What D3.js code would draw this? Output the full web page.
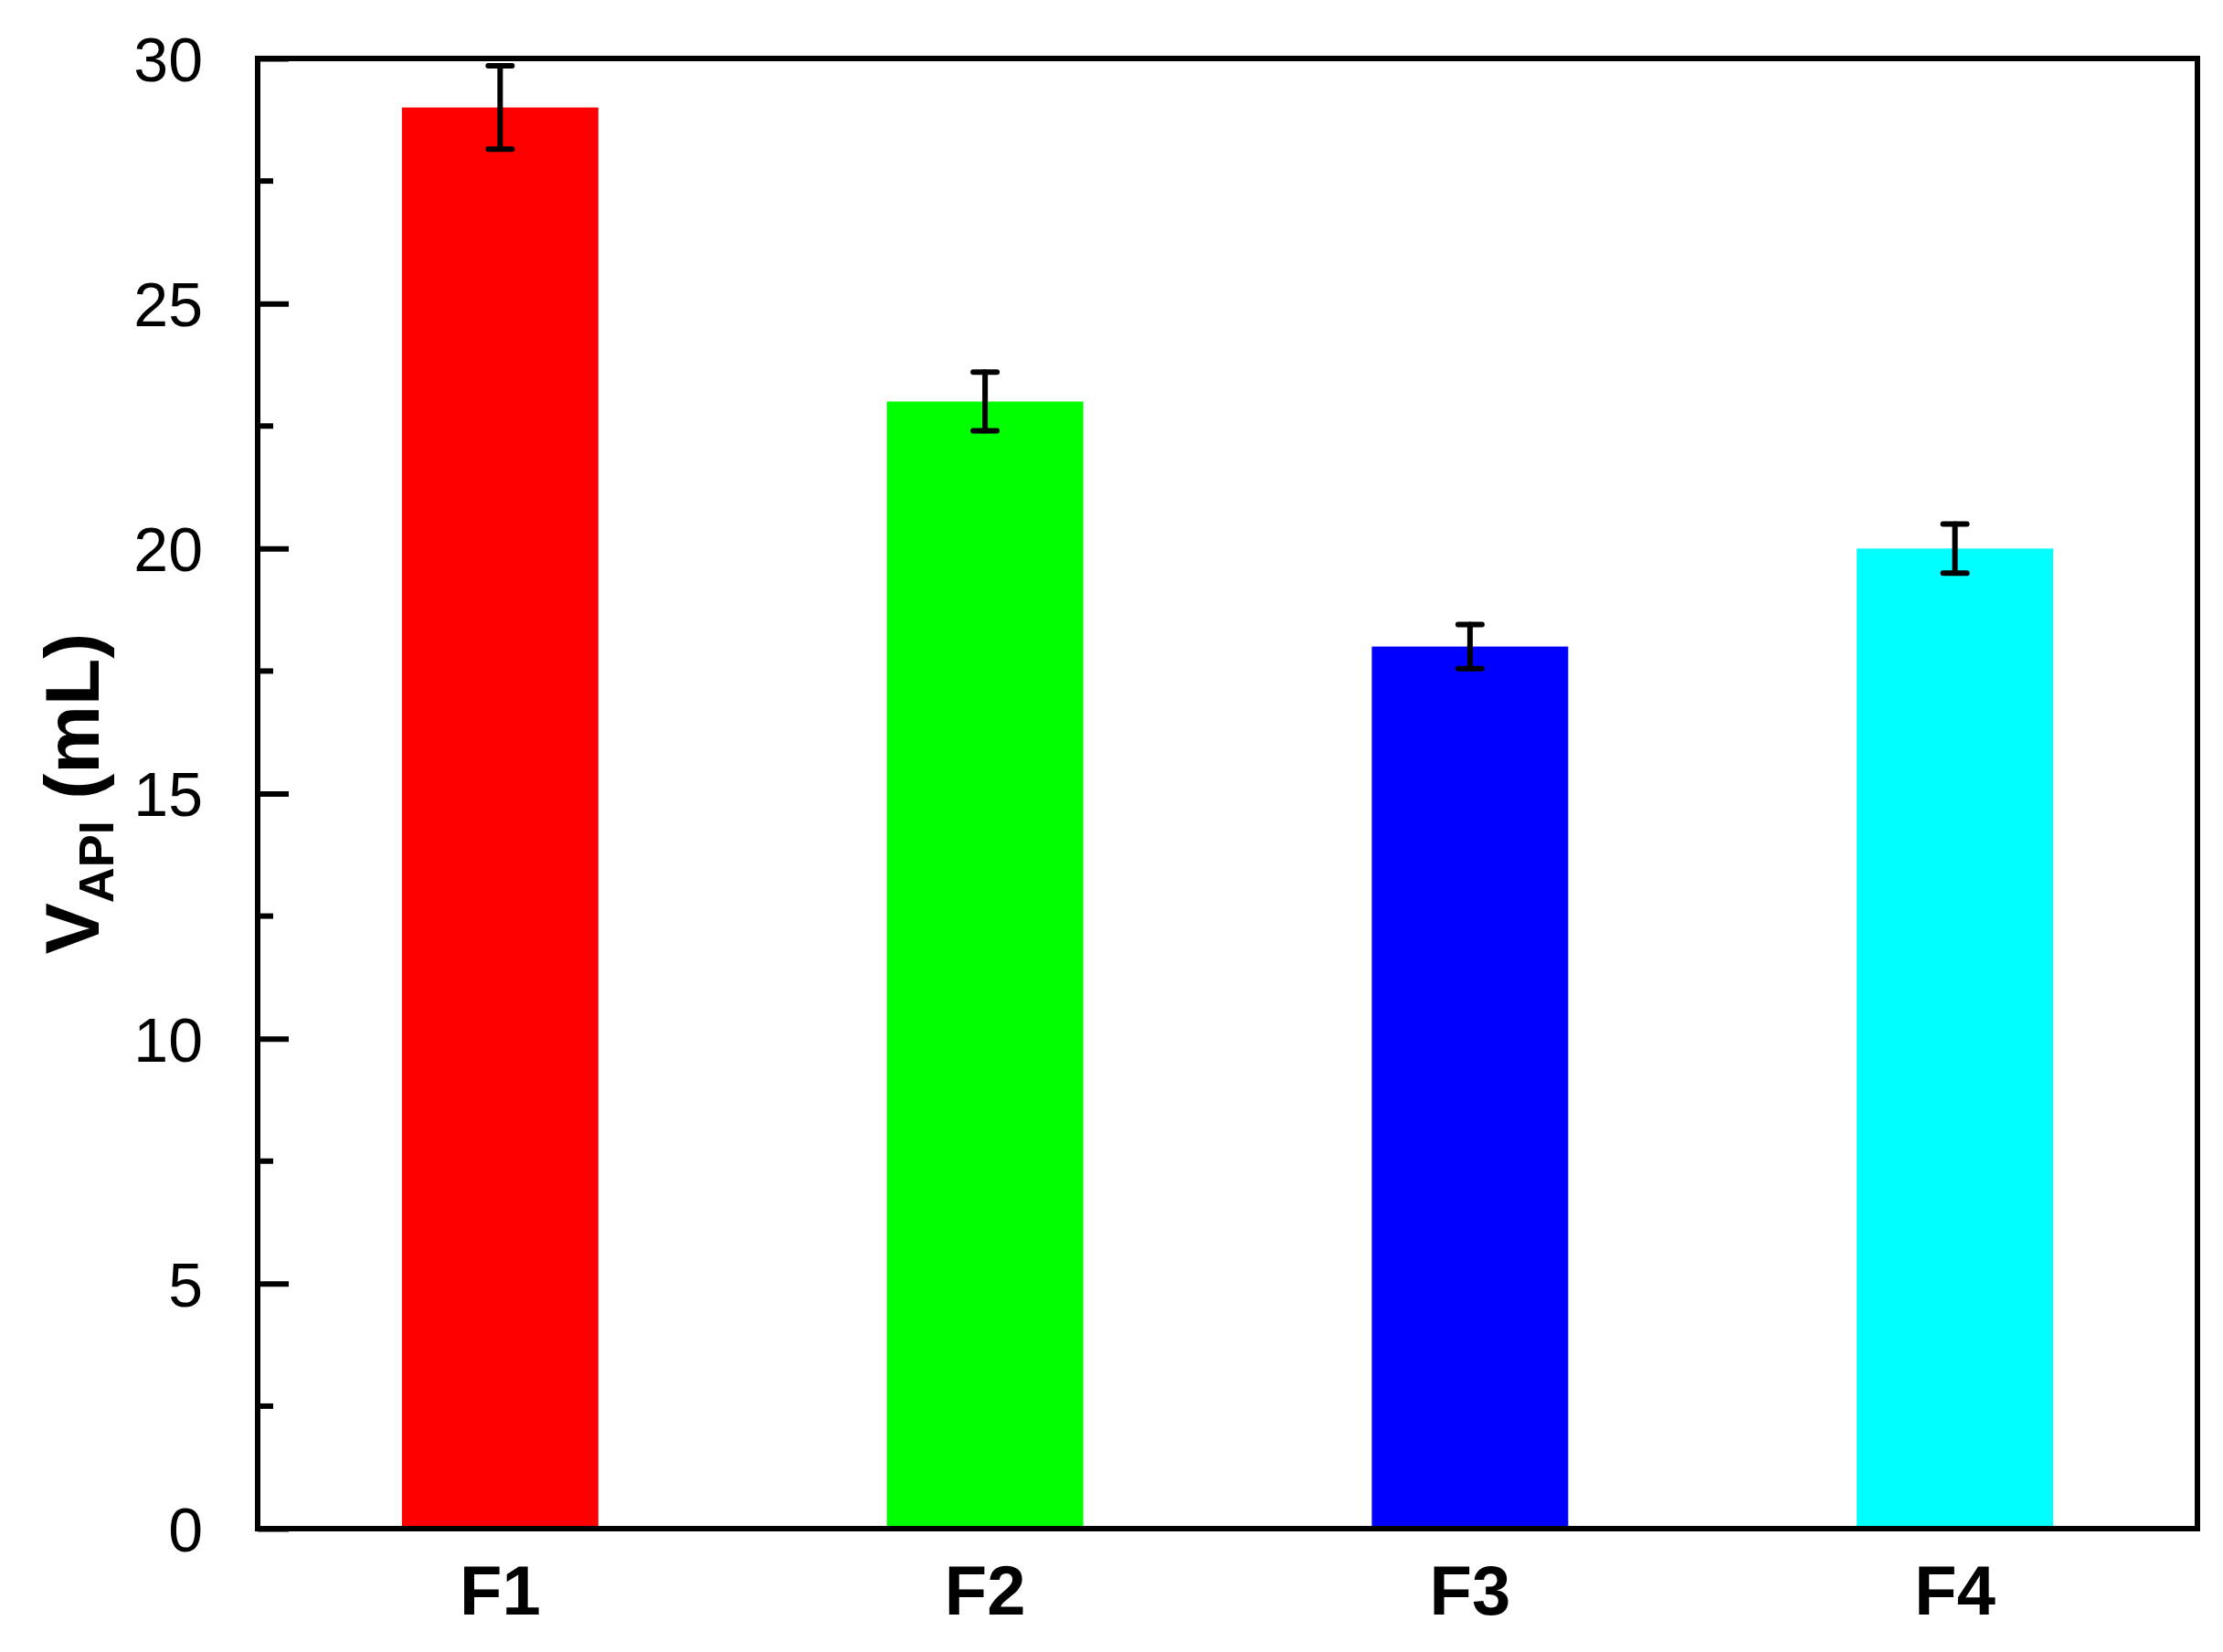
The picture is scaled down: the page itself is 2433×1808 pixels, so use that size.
<!DOCTYPE html>
<html>
<head>
<meta charset="utf-8">
<script src="https://cdn.jsdelivr.net/npm/d3@7"></script>
<style>
  body { margin: 0; background: #fff; }
  text { font-family: "Liberation Sans", Arial, sans-serif; }
</style>
</head>
<body>
<svg id="chart" width="2433" height="1808"></svg>
<script>
// data
let categories = ['F1', 'F2', 'F3', 'F4'];
let values = [29.0, 23.0, 18.0, 20.0];
let errors = [0.85, 0.6, 0.45, 0.5];
let colors = ['#ff0000', '#00ff00', '#0000ff', '#00ffff'];
let yTicks = [0, 5, 10, 15, 20, 25, 30];
let yMinorTicks = [2.5, 7.5, 12.5, 17.5, 22.5, 27.5];

let svg = d3.select('#chart');

// plot frame
let margL = 282;
let margT = 64;
let plotR = 2405;
let plotB = 1673;

let xScale = d3.scaleBand()
    .domain(categories)
    .range([margL, plotR])
    .padding(0);
let yScale = d3.scaleLinear()
    .domain([0, 30])
    .range([plotB, margT]);

let barW = xScale.bandwidth() * 0.405;

// bars
svg.append('g').selectAll('rect')
    .data(categories)
    .enter()
    .append('rect')
    .attr('x', d => xScale(d) + xScale.bandwidth() / 2 - barW / 2)
    .attr('y', (d, i) => yScale(values[i]))
    .attr('width', barW)
    .attr('height', (d, i) => yScale(0) - yScale(values[i]))
    .attr('fill', (d, i) => colors[i]);

// error bars
let capW = 26;
let errGrp = svg.append('g')
    .attr('stroke', '#000')
    .attr('stroke-width', 6)
    .attr('stroke-linecap', 'round');
categories.forEach(function(c, i){
    let cx = xScale(c) + xScale.bandwidth() / 2;
    let hi = yScale(values[i] + errors[i]);
    let lo = yScale(values[i] - errors[i]);
    errGrp.append('line').attr('x1', cx).attr('x2', cx).attr('y1', hi).attr('y2', lo);
    errGrp.append('line').attr('x1', cx - capW / 2 + 0).attr('x2', cx + capW / 2).attr('y1', hi).attr('y2', hi)
        .attr('transform', null);
    errGrp.append('line').attr('x1', cx - capW / 2).attr('x2', cx + capW / 2).attr('y1', lo).attr('y2', lo);
});

// y axis, ticks inward
let yAxis = d3.axisLeft(yScale)
    .tickValues(yTicks)
    .tickSizeInner(-34)
    .tickSizeOuter(0)
    .tickPadding(34 + 26);
let yG = svg.append('g')
    .attr('transform', 'translate(' + margL + ',0)')
    .call(yAxis);
yG.select('.domain').remove();
yG.selectAll('line').attr('stroke', '#000').attr('stroke-width', 6);
yG.selectAll('text')
    .attr('font-size', 68)
    .attr('fill', '#000')
    .attr('dy', '0.36em');

// minor ticks
svg.append('g').selectAll('line')
    .data(yMinorTicks)
    .enter()
    .append('line')
    .attr('x1', margL)
    .attr('x2', margL + 17)
    .attr('y1', d => yScale(d))
    .attr('y2', d => yScale(d))
    .attr('stroke', '#000')
    .attr('stroke-width', 6);

// x labels
let xAxis = d3.axisBottom(xScale).tickSize(0).tickPadding(40);
let xG = svg.append('g')
    .attr('transform', 'translate(0,' + plotB + ')')
    .call(xAxis);
xG.select('.domain').remove();
xG.selectAll('text')
    .attr('font-size', 76)
    .attr('font-weight', 'bold')
    .attr('fill', '#000')
    .attr('dy', '0.71em');

// frame
svg.append('rect')
    .attr('x', margL)
    .attr('y', margT)
    .attr('width', plotR - margL)
    .attr('height', plotB - margT)
    .attr('fill', 'none')
    .attr('stroke', '#000')
    .attr('stroke-width', 6);

// axis title
let title = svg.append('text')
    .attr('transform', 'translate(108,' + ((margT + plotB) / 2) + ') rotate(-90)')
    .attr('text-anchor', 'middle')
    .attr('font-size', 84)
    .attr('font-weight', 'bold')
    .attr('fill', '#000');
title.append('tspan').text('V');
title.append('tspan').attr('font-size', 54).attr('dy', 16).text('API');
title.append('tspan').attr('dy', -16).text(' (mL)');
</script>
</body>
</html>
